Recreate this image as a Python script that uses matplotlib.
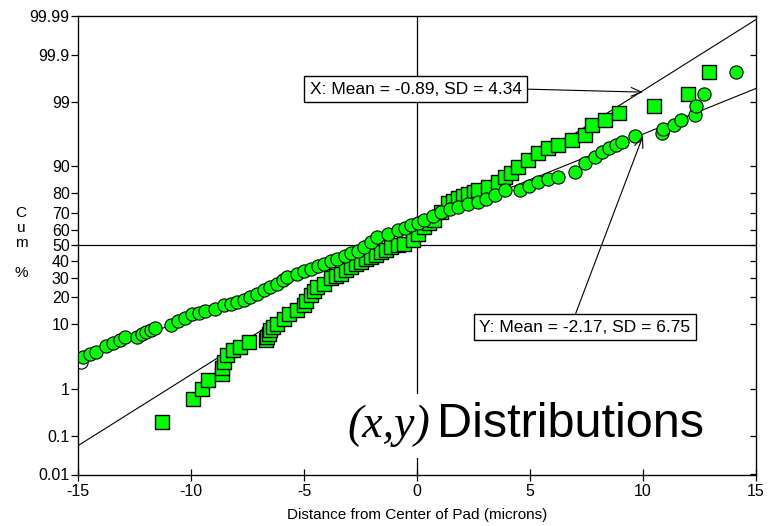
import numpy as np
import matplotlib
matplotlib.use("Agg")
import matplotlib.pyplot as plt
from statistics import NormalDist

plt.rcParams['font.family'] = ['Liberation Sans', 'DejaVu Sans']
plt.rcParams['axes.unicode_minus'] = False

# X offsets (squares): value, cumulative %
x_vals = [-11.30, -9.90, -9.52, -9.23, -8.64, -8.64, -8.56, -8.41, -8.12, -7.82,
          -7.45, -6.70, -6.64, -6.55, -6.49, -6.35, -6.19, -5.90, -5.68, -5.30,
          -5.01, -4.90, -4.71, -4.55, -4.41, -4.12, -3.82, -3.60, -3.38, -3.15,
          -2.93, -2.70, -2.49, -2.25, -2.04, -1.80, -1.60, -1.35, -1.16, -0.85,
          -0.56, -0.19, 0.05, 0.32, 0.55, 0.77, 1.05, 1.36, 1.60, 1.81,
          2.05, 2.25, 2.50, 2.70, 3.14, 3.59, 3.88, 4.18, 4.48, 4.92,
          5.36, 5.81, 6.25, 6.84, 7.44, 7.73, 8.32, 8.95, 10.48, 11.98, 12.91]
x_cum = [0.21, 0.62, 1.0, 1.46, 1.87, 2.3, 2.9, 3.7, 4.4, 4.9,
         5.8, 6.3, 6.8, 7.4, 8.4, 9.2, 10.2, 11.7, 13.4, 14.8,
         16.5, 18.5, 20.9, 22.8, 24.9, 26.7, 29.5, 30.8, 32.3, 34.2,
         36.3, 37.8, 39.3, 41.0, 42.5, 44.0, 45.6, 47.2, 48.9, 50.0,
         51.1, 53.2, 57.5, 61.7, 63.8, 65.8, 70.5, 75.1, 76.3, 77.6,
         78.8, 79.9, 80.7, 81.4, 82.8, 84.8, 86.6, 87.8, 89.8, 91.6,
         93.2, 94.2, 94.8, 95.6, 96.3, 97.4, 97.9, 98.4, 98.8, 99.3, 99.75]

# Y offsets (circles)
y_vals = [-14.79, -14.45, -14.19, -13.75, -13.45, -13.16, -12.93, -12.41, -12.15, -11.97,
          -11.75, -11.60, -10.90, -10.56, -10.25, -9.97, -9.65, -9.38, -8.95, -8.56,
          -8.25, -7.97, -7.65, -7.38, -7.10, -6.79, -6.50, -6.19, -5.95, -5.75,
          -5.30, -5.00, -4.71, -4.40, -4.12, -3.80, -3.52, -3.20, -2.93, -2.60,
          -2.34, -2.05, -1.75, -1.30, -0.86, -0.55, -0.27, 0.05, 0.32, 0.70,
          1.07, 1.45, 1.81, 2.25, 2.70, 3.05, 3.44, 3.88, 4.55, 4.95,
          5.36, 5.80, 6.25, 6.99, 7.44, 7.88, 8.20, 8.48, 8.80, 9.07,
          9.66, 10.84, 10.90, 11.36, 11.70, 12.30, 12.36, 12.70, 14.13]
y_cum = [3.5, 3.9, 4.2, 5.1, 5.6, 6.2, 6.8, 6.9, 7.4, 7.9,
         8.4, 9.0, 9.7, 11.1, 12.0, 13.1, 13.6, 14.3, 15.2, 16.5,
         17.1, 17.9, 18.9, 20.0, 21.5, 23.3, 25.0, 26.7, 28.5, 30.4,
         32.3, 33.8, 35.3, 36.8, 38.3, 39.9, 41.4, 43.0, 44.7, 46.5,
         48.9, 52.0, 55.3, 57.5, 59.6, 61.2, 62.7, 64.2, 65.8, 68.3,
         70.6, 72.0, 73.3, 74.6, 75.8, 77.4, 79.1, 81.4, 81.5, 83.3,
         84.8, 85.7, 86.6, 88.3, 90.8, 92.4, 93.4, 94.2, 94.8, 95.3,
         96.2, 96.6, 97.0, 97.4, 97.9, 98.3, 98.8, 99.3, 99.75]
y_hollow_vals = [-14.85]
y_hollow_cum = [2.9]

x_mean, x_sd = -0.89, 4.34
y_mean, y_sd = -2.17, 6.75

p_ticks = [0.01, 0.1, 1, 10, 20, 30, 40, 50, 60, 70, 80, 90, 99, 99.9, 99.99]
p_labels = ['0.01', '0.1', '1', '10', '20', '30', '40', '50', '60', '70', '80', '90', '99', '99.9', '99.99']

_nd = NormalDist()
_ppf = np.vectorize(lambda q: _nd.inv_cdf(q), otypes=[float])
_cdf = np.vectorize(lambda z: _nd.cdf(z), otypes=[float])

def forward(p):
    p = np.clip(np.asarray(p, dtype=float), 1e-7, 100 - 1e-7)
    return _ppf(p / 100.0)

def inverse(z):
    return _cdf(np.asarray(z, dtype=float)) * 100.0

W, H = 769, 526
fig = plt.figure(figsize=(W / 100, H / 100), dpi=100)
ax = fig.add_axes([78 / W, (H - 474.5) / H, (756 - 78) / W, (474.5 - 16) / H])
ax.set_yscale('function', functions=(forward, inverse))
ax.set_xlim(-15, 15)
ax.set_ylim(0.01, 99.99)

# reference lines
ax.axhline(50, color='black', lw=0.9, zorder=1)
ax.axvline(0, color='black', lw=0.9, zorder=1)

# fitted normal lines
xs = np.array([-15.0, 15.0])
ax.plot(xs, [NormalDist(x_mean, x_sd).cdf(v) * 100 for v in xs], color='black', lw=0.8, zorder=2)
ax.plot(xs, [NormalDist(y_mean, y_sd).cdf(v) * 100 for v in xs], color='black', lw=0.8, zorder=2)

ax.plot(x_vals, x_cum, 's', ms=9.5, mfc='#00ff00', mec='black', mew=1, zorder=3)
ax.plot(y_hollow_vals, y_hollow_cum, 'o', ms=9.5, mfc='white', mec='black', mew=0.8, zorder=3)
ax.plot(y_vals, y_cum, 'o', ms=9.5, mfc='#00ff00', mec='black', mew=0.8, zorder=4)

ax.set_yticks(p_ticks)
ax.set_yticklabels(p_labels)
ax.minorticks_off()
ax.set_xticks(range(-15, 16, 5))
ax.set_xticks(range(-15, 16), minor=True)
ax.tick_params(axis='x', which='major', direction='inout', length=9, width=0.9, labelsize=11.5, pad=2)
ax.tick_params(axis='x', which='minor', direction='out', length=4, width=0.9)
ax.tick_params(axis='y', which='major', direction='out', length=5, width=0.9, labelsize=11.5, pad=1)
for s in ax.spines.values():
    s.set_linewidth(0.9)

ax2 = ax.twinx()
ax2.set_yscale('function', functions=(forward, inverse))
ax2.set_ylim(0.01, 99.99)
ax2.set_yticks(p_ticks)
ax2.minorticks_off()
ax2.tick_params(axis='y', direction='in', length=4, width=0.9, labelright=False)

ax.set_xlabel('Distance from Center of Pad (microns)', fontsize=11, labelpad=7)
fig.text(21 / W, 1 - 243 / H, 'C\nu\nm\n\n%', ha='center', va='center', fontsize=11, linespacing=1.08)

# annotations
ax.annotate('X: Mean = -0.89, SD = 4.34', xy=(10, 99.35), xycoords='data',
            xytext=(415.5 / W, 1 - 89 / H), textcoords='figure fraction',
            ha='center', va='center', fontsize=12.5,
            bbox=dict(boxstyle='square,pad=0.32', fc='white', ec='black', lw=1),
            arrowprops=dict(arrowstyle='->,head_length=0.6,head_width=0.25', color='black',
                            lw=0.8, relpos=(1, 0.5), shrinkA=0, shrinkB=0), zorder=6)
ax.annotate('Y: Mean = -2.17, SD = 6.75', xy=(10, 96.2), xycoords='data',
            xytext=(585 / W, 1 - 327 / H), textcoords='figure fraction',
            ha='center', va='center', fontsize=12.5,
            bbox=dict(boxstyle='square,pad=0.32', fc='white', ec='black', lw=1),
            arrowprops=dict(arrowstyle='->,head_length=0.6,head_width=0.25', color='black',
                            lw=0.8, relpos=(0.445, 1), shrinkA=0, shrinkB=0), zorder=6)

# title-like label inside the plot
fig.text(347 / W, 1 - 437 / H, '(x,y)', ha='left', va='baseline', fontsize=33,
         family='Liberation Serif', style='italic', zorder=7,
         bbox=dict(boxstyle='square,pad=0.24', fc='white', ec='none'))
fig.text(437 / W, 1 - 437 / H, 'Distributions', ha='left', va='baseline', fontsize=35, zorder=7)

fig.savefig('out.png', dpi=100)
